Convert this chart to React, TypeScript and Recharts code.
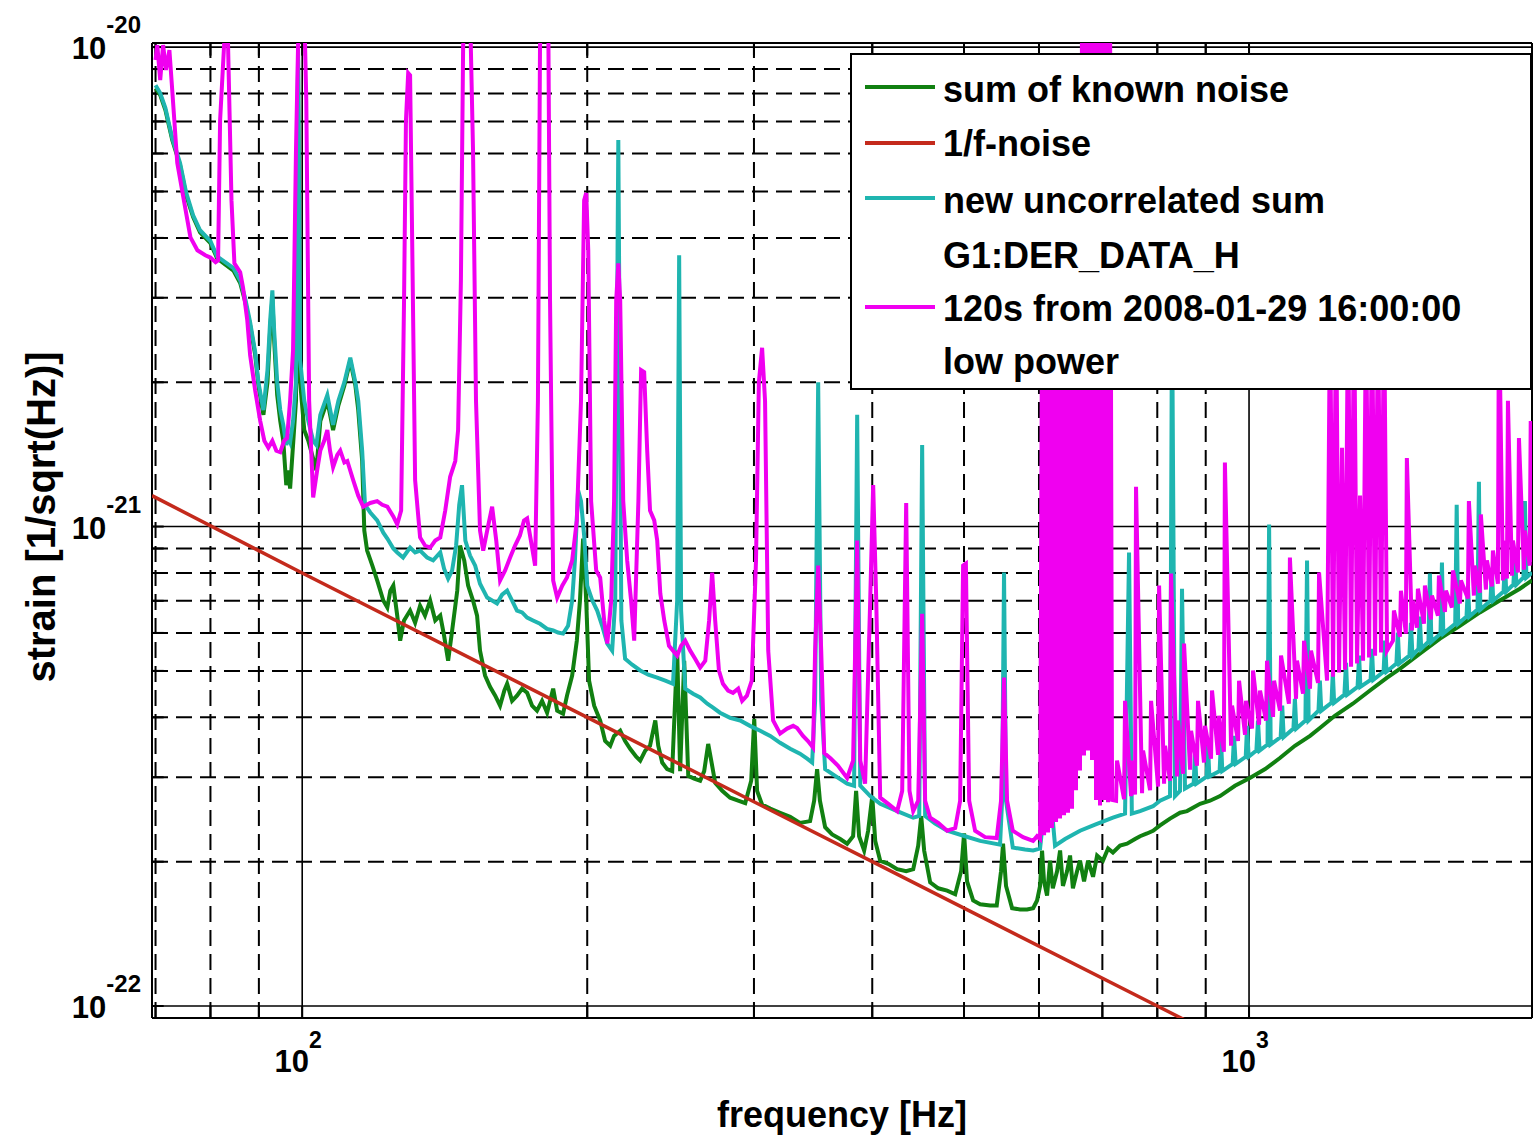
import { LineChart, Line, XAxis, YAxis, ReferenceLine, Label } from 'recharts';

// [frequency Hz, strain 1/sqrt(Hz)]
const knownNoise: [number, number][] = [
  [70.0, 8.21e-21], [70.8, 7.94e-21], [71.7, 7.39e-21], [72.9, 6.4e-21], [74.3, 5.67e-21], [75.4, 4.91e-21],
  [76.7, 4.42e-21], [78.0, 4.11e-21], [80.0, 3.9e-21], [81.3, 3.63e-21], [82.9, 3.52e-21], [84.6, 3.42e-21],
  [86.0, 3.22e-21], [87.0, 2.96e-21], [88.1, 2.63e-21], [89.2, 2.28e-21], [89.9, 1.97e-21], [91.0, 1.71e-21],
  [91.9, 2.0e-21], [92.5, 2.57e-21], [93.0, 2.99e-21], [93.4, 2.45e-21], [94.1, 1.88e-21], [94.8, 1.66e-21],
  [95.5, 1.51e-21], [96.2, 1.22e-21], [96.7, 1.31e-21], [97.1, 1.2e-21], [97.8, 1.48e-21], [98.5, 1.83e-21],
  [99.0, 9.4e-21], [99.5, 2.0e-21], [100.5, 1.59e-21], [101.5, 1.51e-21], [103.5, 1.31e-21], [104.5, 1.66e-21],
  [106.3, 1.83e-21], [107.8, 1.59e-21], [109.2, 1.79e-21], [110.8, 1.97e-21], [112.4, 2.22e-21], [113.8, 1.97e-21],
  [114.6, 1.75e-21], [115.7, 1.37e-21], [116.3, 9.81e-22], [117.1, 8.91e-22], [118.6, 8.29e-22], [120.0, 7.72e-22],
  [121.8, 7.01e-22], [123.0, 6.78e-22], [123.9, 7.35e-22], [124.8, 7.53e-22], [126.0, 6.52e-22], [126.9, 5.78e-22],
  [128.1, 6.37e-22], [130.0, 6.68e-22], [131.6, 6.3e-22], [133.2, 6.84e-22], [134.8, 6.52e-22], [136.5, 7.01e-22],
  [138.2, 6.37e-22], [139.9, 6.52e-22], [141.2, 5.92e-22], [142.6, 5.25e-22], [144.0, 6.07e-22], [145.8, 7.35e-22],
  [146.8, 9.13e-22], [148.3, 8.5e-22], [149.7, 7.53e-22], [151.5, 7.01e-22], [153.0, 6.52e-22], [154.1, 5.51e-22],
  [156.0, 4.89e-22], [157.9, 4.63e-22], [159.9, 4.44e-22], [161.8, 4.23e-22], [163.5, 4.55e-22], [164.6, 4.7e-22],
  [166.6, 4.33e-22], [168.6, 4.44e-22], [170.7, 4.59e-22], [172.8, 4.5e-22], [174.9, 4.23e-22], [177.0, 4.13e-22],
  [179.2, 4.33e-22], [181.4, 4.09e-22], [184.1, 4.59e-22], [185.9, 4.13e-22], [188.6, 4.07e-22], [190.4, 4.44e-22],
  [192.8, 4.89e-22], [195.0, 5.78e-22], [196.5, 7.01e-22], [198.0, 9.44e-22], [199.5, 7.01e-22], [200.9, 4.77e-22],
  [203.4, 4.23e-22], [206.4, 3.94e-22], [208.9, 3.57e-22], [211.5, 3.49e-22], [213.5, 3.66e-22], [216.7, 3.75e-22],
  [219.3, 3.57e-22], [222.0, 3.44e-22], [225.3, 3.31e-22], [227.5, 3.25e-22], [230.3, 3.41e-22], [233.0, 3.49e-22],
  [236.0, 3.94e-22], [237.7, 3.49e-22], [240.0, 3.22e-22], [242.9, 3.12e-22], [245.9, 3.09e-22], [248.9, 5.51e-22],
  [250.7, 3.09e-22], [253.2, 5.25e-22], [255.7, 3.02e-22], [259.4, 2.98e-22], [263.2, 2.95e-22], [265.8, 3.09e-22],
  [268.4, 3.52e-22], [270.4, 3.25e-22], [273.0, 2.92e-22], [277.7, 2.81e-22], [283.1, 2.72e-22], [288.7, 2.68e-22],
  [293.7, 2.65e-22], [298.0, 2.95e-22], [300.2, 3.97e-22], [302.3, 2.81e-22], [306.0, 2.63e-22], [312.1, 2.58e-22],
  [319.7, 2.53e-22], [327.6, 2.48e-22], [335.5, 2.41e-22], [343.9, 2.43e-22], [347.3, 2.68e-22], [349.8, 3.12e-22],
  [352.2, 2.68e-22], [356.7, 2.36e-22], [362.8, 2.28e-22], [370.0, 2.23e-22], [376.3, 2.18e-22], [381.8, 2.26e-22],
  [384.6, 2.81e-22], [387.4, 2.26e-22], [392.2, 2.11e-22], [396.0, 2.32e-22], [400.0, 2.74e-22], [402.9, 2.21e-22],
  [407.8, 2.01e-22], [415.9, 1.98e-22], [425.0, 1.93e-22], [434.4, 1.91e-22], [441.9, 1.93e-22], [447.3, 2.16e-22],
  [450.6, 2.49e-22], [453.8, 2.11e-22], [460.5, 1.81e-22], [469.6, 1.76e-22], [479.9, 1.74e-22], [489.4, 1.71e-22],
  [496.5, 1.91e-22], [500.1, 2.29e-22], [503.7, 1.82e-22], [511.2, 1.66e-22], [520.0, 1.63e-22], [532.9, 1.62e-22],
  [541.4, 1.62e-22], [547.1, 1.91e-22], [549.8, 2.18e-22], [553.8, 1.78e-22], [562.0, 1.6e-22], [573.0, 1.59e-22],
  [582.9, 1.59e-22], [591.5, 1.6e-22], [597.2, 1.66e-22], [601.6, 1.78e-22], [604.5, 2.11e-22], [607.4, 1.82e-22],
  [611.9, 1.7e-22], [616.4, 2.01e-22], [620.5, 1.76e-22], [627.0, 1.91e-22], [631.6, 2.11e-22], [636.0, 1.78e-22],
  [642.4, 1.91e-22], [647.1, 2.06e-22], [651.6, 1.76e-22], [658.2, 1.91e-22], [663.0, 2.01e-22], [669.5, 1.82e-22],
  [676.1, 2.01e-22], [684.3, 1.86e-22], [691.1, 2.06e-22], [701.0, 2.01e-22], [709.8, 2.13e-22], [718.2, 2.09e-22],
  [730.8, 2.16e-22], [743.3, 2.18e-22], [757.9, 2.23e-22], [767.2, 2.26e-22], [780.3, 2.29e-22], [791.8, 2.32e-22],
  [805.4, 2.38e-22], [825.2, 2.46e-22], [845.5, 2.53e-22], [860.0, 2.55e-22], [887.7, 2.64e-22], [909.5, 2.68e-22],
  [931.9, 2.74e-22], [966.4, 2.88e-22], [1002, 2.99e-22], [1040, 3.12e-22], [1078, 3.29e-22], [1118, 3.49e-22],
  [1160, 3.66e-22], [1188, 3.8e-22], [1232, 4.03e-22], [1287, 4.27e-22], [1342, 4.55e-22], [1399, 4.84e-22],
  [1443, 5.05e-22], [1515, 5.43e-22], [1591, 5.84e-22], [1670, 6.21e-22], [1753, 6.62e-22], [1840, 7.01e-22],
  [1932, 7.42e-22], [1990, 7.72e-22],
];

const oneOverF: [number, number][] = [
  [69.4, 1.16e-21], [100, 8.0e-22], [200, 4.0e-22], [400, 2.0e-22], [800, 1.0e-22], [1000, 8.0e-23],
];

const uncorrelatedSum: [number, number][] = [
  [70.0, 8.33e-21], [70.8, 8.02e-21], [71.7, 7.46e-21], [72.9, 6.46e-21], [74.3, 5.73e-21], [75.4, 4.98e-21],
  [76.7, 4.46e-21], [78.0, 4.15e-21], [80.0, 3.94e-21], [81.3, 3.66e-21], [82.9, 3.56e-21], [84.6, 3.46e-21],
  [86.0, 3.26e-21], [87.0, 3.01e-21], [88.1, 2.67e-21], [89.2, 2.31e-21], [89.9, 2.0e-21], [91.0, 1.75e-21],
  [91.9, 2.12e-21], [92.5, 2.69e-21], [93.0, 3.11e-21], [93.4, 2.57e-21], [94.1, 2.0e-21], [94.8, 1.75e-21],
  [95.5, 1.63e-21], [96.2, 1.48e-21], [96.7, 1.53e-21], [97.1, 1.5e-21], [97.8, 1.66e-21], [98.5, 2.0e-21],
  [99.0, 9.86e-21], [99.5, 2.22e-21], [100.5, 1.83e-21], [101.5, 1.66e-21], [102.7, 1.51e-21], [103.5, 1.48e-21],
  [104.5, 1.71e-21], [106.3, 1.88e-21], [107.8, 1.63e-21], [109.2, 1.83e-21], [110.8, 2.0e-21], [112.4, 2.25e-21],
  [113.8, 2.0e-21], [114.6, 1.83e-21], [115.7, 1.44e-21], [116.5, 1.11e-21], [118.0, 1.07e-21], [120.0, 1.03e-21],
  [121.8, 9.71e-22], [123.0, 9.44e-22], [124.8, 9.0e-22], [126.0, 8.83e-22], [127.8, 8.62e-22], [130.0, 9.04e-22],
  [131.6, 8.83e-22], [133.2, 8.91e-22], [135.5, 8.62e-22], [137.5, 8.5e-22], [139.9, 8.83e-22], [141.2, 8.17e-22],
  [142.6, 7.79e-22], [144.0, 8.1e-22], [145.4, 9.13e-22], [146.5, 1.11e-21], [147.5, 1.22e-21], [148.7, 9.35e-22],
  [150.4, 8.7e-22], [152.3, 8.29e-22], [154.1, 7.6e-22], [156.8, 7.11e-22], [158.7, 7.01e-22], [160.6, 6.91e-22],
  [162.6, 7.21e-22], [164.6, 7.35e-22], [166.6, 7.01e-22], [168.6, 6.68e-22], [170.7, 6.62e-22], [172.8, 6.46e-22],
  [175.3, 6.37e-22], [178.3, 6.27e-22], [181.4, 6.12e-22], [184.1, 6.07e-22], [186.3, 6.01e-22], [188.6, 5.98e-22],
  [190.9, 6.21e-22], [192.8, 7.01e-22], [194.1, 8.5e-22], [195.6, 1.19e-21], [197.0, 1.13e-21], [198.5, 9.58e-22],
  [200.0, 7.53e-22], [202.5, 7.01e-22], [204.9, 6.68e-22], [207.4, 6.21e-22], [210.0, 5.7e-22], [212.5, 5.51e-22],
  [214.1, 7.01e-22], [215.7, 6.4e-21], [217.3, 6.37e-22], [219.3, 5.3e-22], [223.1, 5.15e-22], [227.5, 5.01e-22],
  [232.0, 4.91e-22], [237.1, 4.84e-22], [241.8, 4.77e-22], [246.4, 4.7e-22], [248.9, 7.01e-22], [250.1, 3.68e-21],
  [251.3, 6.68e-22], [253.8, 4.59e-22], [258.7, 4.48e-22], [263.2, 4.4e-22], [267.8, 4.27e-22], [271.6, 4.19e-22],
  [276.2, 4.09e-22], [283.1, 3.99e-22], [290.1, 3.94e-22], [297.1, 3.84e-22], [304.6, 3.75e-22], [312.1, 3.66e-22],
  [319.7, 3.54e-22], [327.6, 3.44e-22], [335.5, 3.36e-22], [341.4, 3.28e-22], [345.6, 3.22e-22], [348.1, 4.33e-22],
  [350.7, 2.0e-21], [353.3, 4.33e-22], [356.7, 3.12e-22], [365.5, 3.02e-22], [376.3, 2.91e-22], [382.7, 2.88e-22],
  [385.6, 1.71e-21], [388.5, 2.88e-22], [398.0, 2.74e-22], [407.8, 2.64e-22], [425.0, 2.55e-22], [441.9, 2.47e-22],
  [448.4, 2.49e-22], [451.6, 1.48e-21], [454.9, 2.49e-22], [466.1, 2.4e-22], [479.9, 2.32e-22], [501.3, 2.26e-22],
  [520.0, 2.21e-22], [545.8, 2.17e-22], [548.5, 2.68e-22], [551.1, 8.02e-22], [553.8, 2.68e-22], [563.0, 2.14e-22],
  [580.0, 2.12e-22], [591.5, 2.11e-22], [601.6, 2.13e-22], [608.9, 2.68e-22], [613.4, 1.36e-21], [617.9, 2.68e-22],
  [623.9, 2.16e-22], [639.3, 2.23e-22], [663.0, 2.32e-22], [687.7, 2.39e-22], [718.2, 2.47e-22], [739.7, 2.52e-22],
  [746.9, 8.83e-22], [752.0, 2.52e-22], [767.2, 2.55e-22], [791.8, 2.61e-22], [805.4, 2.68e-22], [825.2, 2.74e-22],
  [829.2, 2.96e-21], [835.3, 2.74e-22], [845.5, 2.81e-22], [849.6, 7.42e-22], [855.8, 2.84e-22],
  [874, 2.91e-22], [876.9, 3.37e-22], [880, 2.91e-22], [902, 3.01e-22], [905.1, 3.49e-22], [908, 3.01e-22],
  [931, 3.09e-22], [934.2, 3.61e-22], [937, 3.09e-22], [961, 3.2e-22], [964.2, 3.66e-22], [968, 3.2e-22],
  [992, 3.31e-22], [995.2, 3.84e-22], [999, 3.31e-22], [1018, 3.41e-22], [1022, 3.94e-22], [1026, 3.41e-22],
  [1046, 3.51e-22], [1050, 1.01e-21], [1054, 3.51e-22], [1080, 3.64e-22], [1084, 4.23e-22], [1088, 3.64e-22],
  [1114, 3.79e-22], [1118, 4.37e-22], [1122, 3.79e-22], [1147, 3.94e-22], [1151.5, 8.5e-22], [1156, 3.94e-22],
  [1184, 4.13e-22], [1188, 4.77e-22], [1192, 4.13e-22], [1222, 4.29e-22], [1226, 4.96e-22], [1230, 4.29e-22],
  [1261, 4.46e-22], [1266, 5.2e-22], [1270, 4.46e-22], [1302, 4.63e-22], [1307, 5.38e-22], [1311, 4.63e-22],
  [1344, 4.79e-22], [1348.5, 5.56e-22], [1353, 4.79e-22], [1387, 4.98e-22], [1392, 5.78e-22], [1397, 4.98e-22],
  [1431, 5.18e-22], [1436, 6.01e-22], [1441, 5.18e-22], [1477, 5.38e-22], [1482.5, 6.3e-22], [1488, 5.38e-22],
  [1510, 5.56e-22], [1515, 6.49e-22], [1520, 5.56e-22], [1547, 5.75e-22], [1552.5, 7.98e-22], [1558, 5.75e-22],
  [1593, 5.98e-22], [1598.6, 8.41e-22], [1604, 5.98e-22], [1651, 6.27e-22], [1657, 1.11e-21], [1663, 6.27e-22],
  [1697, 6.49e-22], [1703, 7.53e-22], [1709, 6.49e-22], [1743, 6.71e-22], [1749, 1.24e-21], [1755, 6.71e-22],
  [1799, 7.01e-22], [1805, 8.1e-22], [1811, 7.01e-22], [1857, 7.32e-22], [1863, 8.5e-22], [1869, 7.32e-22],
  [1902, 7.57e-22], [1909, 8.83e-22], [1916, 7.57e-22], [1949, 7.83e-22], [1956, 1.13e-21], [1963, 7.83e-22],
  [1990, 8.02e-22],
];

const measured: [number, number][] = [
  [70.0, 9.4e-21], [70.3, 1.01e-20], [70.8, 8.54e-21], [71.3, 1.01e-20], [71.8, 8.96e-21], [72.4, 9.86e-21],
  [72.9, 8.13e-21], [73.8, 5.73e-21], [74.9, 4.86e-21], [76.2, 4.01e-21], [77.5, 3.77e-21], [79.0, 3.68e-21],
  [80.0, 3.64e-21], [81.0, 3.56e-21], [81.5, 3.59e-21], [81.9, 7.04e-21], [82.7, 1.01e-20], [83.5, 1.01e-20],
  [84.2, 4.79e-21], [84.8, 3.54e-21], [86.0, 3.39e-21], [86.6, 3.15e-21], [87.5, 2.69e-21], [88.1, 2.28e-21],
  [89.2, 1.92e-21], [90.3, 1.66e-21], [91.2, 1.51e-21], [92.1, 1.46e-21], [93.0, 1.51e-21], [93.9, 1.44e-21],
  [94.8, 1.43e-21], [95.7, 1.51e-21], [96.4, 1.53e-21], [97.1, 1.83e-21], [97.8, 2.33e-21], [98.5, 6.1e-21],
  [99.0, 1.01e-20], [99.5, 1.2e-20], [100.5, 1.2e-20], [101.0, 7.75e-21], [101.7, 1.83e-21], [102.7, 1.15e-21],
  [103.7, 1.31e-21], [104.5, 1.44e-21], [105.5, 1.51e-21], [106.3, 1.59e-21], [107.0, 1.44e-21], [107.8, 1.33e-21],
  [108.9, 1.41e-21], [109.7, 1.44e-21], [110.8, 1.36e-21], [111.6, 1.37e-21], [113.2, 1.25e-21], [114.6, 1.16e-21],
  [116.0, 1.1e-21], [118.0, 1.12e-21], [120.0, 1.13e-21], [121.5, 1.11e-21], [123.0, 1.1e-21], [124.8, 1.05e-21],
  [126.0, 1.01e-21], [127.2, 1.08e-21], [128.1, 2.96e-21], [128.7, 7.04e-21], [129.4, 8.83e-21], [130.0, 8.74e-21],
  [130.7, 3.77e-21], [131.6, 1.25e-21], [133.2, 9.49e-22], [134.8, 9.13e-22], [136.5, 9.04e-22], [138.2, 9.35e-22],
  [139.9, 9.49e-22], [141.6, 1.08e-21], [143.3, 1.27e-21], [145.1, 1.37e-21], [146.1, 1.59e-21], [147.1, 3.26e-21],
  [147.9, 1.01e-20], [149.0, 1.2e-20], [150.4, 1.2e-20], [151.5, 6.1e-21], [152.6, 1.83e-21], [154.1, 9.81e-22],
  [155.3, 8.91e-22], [156.8, 9.81e-22], [158.7, 1.1e-21], [160.3, 9.35e-22], [161.8, 7.72e-22], [163.8, 8.1e-22],
  [165.8, 8.62e-22], [167.8, 9.13e-22], [169.8, 9.58e-22], [171.5, 1.03e-21], [172.8, 1.04e-21], [174.4, 9.35e-22],
  [176.2, 8.29e-22], [177.4, 1.83e-21], [178.3, 1.01e-20], [180.1, 1.2e-20], [181.9, 1.2e-20], [182.7, 2.96e-21],
  [184.1, 7.72e-22], [185.9, 7.11e-22], [188.2, 7.53e-22], [190.4, 7.83e-22], [192.8, 8.5e-22], [195.0, 1.03e-21],
  [197.0, 1.83e-21], [198.5, 4.79e-21], [199.5, 4.96e-21], [200.5, 3.77e-21], [201.9, 1.13e-21], [204.4, 8.1e-22],
  [206.4, 7.83e-22], [208.4, 6.37e-22], [210.0, 5.7e-22], [212.0, 7.01e-22], [213.5, 1.13e-21], [214.6, 2.96e-21],
  [215.7, 3.54e-21], [216.7, 2.96e-21], [218.3, 1.13e-21], [220.4, 8.5e-22], [222.5, 7.01e-22], [224.2, 5.78e-22],
  [226.5, 1.13e-21], [228.0, 2.12e-21], [229.7, 2.1e-21], [231.4, 1.44e-21], [233.0, 1.08e-21], [235.4, 1.03e-21],
  [237.1, 9.35e-22], [238.9, 7.25e-22], [241.2, 6.37e-22], [244.0, 5.64e-22], [246.4, 5.51e-22], [248.9, 5.38e-22],
  [251.3, 5.64e-22], [253.8, 5.78e-22], [256.9, 5.51e-22], [260.0, 5.3e-22], [263.2, 5.08e-22], [266.5, 5.25e-22],
  [269.0, 6.37e-22], [271.0, 8.02e-22], [273.0, 6.37e-22], [275.5, 5.01e-22], [278.2, 4.7e-22], [281.7, 4.55e-22],
  [285.1, 4.5e-22], [288.7, 4.59e-22], [291.5, 4.33e-22], [294.9, 4.44e-22], [298.4, 4.77e-22], [301.5, 8.5e-22],
  [303.6, 2.0e-21], [306.0, 2.36e-21], [308.2, 1.83e-21], [310.6, 5.51e-22], [314.3, 3.94e-22], [319.7, 3.7e-22],
  [325.2, 3.79e-22], [330.0, 3.84e-22], [333.2, 3.8e-22], [338.0, 3.66e-22], [342.1, 3.57e-22], [346.4, 3.46e-22],
  [348.1, 5.51e-22], [350.7, 8.29e-22], [353.3, 5.51e-22], [355.9, 3.37e-22], [361.1, 3.29e-22], [368.1, 3.17e-22],
  [376.3, 2.99e-22], [381.8, 3.25e-22], [385.6, 9.35e-22], [388.5, 3.25e-22], [393.1, 2.91e-22], [398.0, 7.01e-22],
  [400.9, 1.22e-21], [403.9, 7.01e-22], [407.8, 2.72e-22], [415.9, 2.64e-22], [425.0, 2.55e-22], [430.2, 2.81e-22],
  [434.4, 1.12e-21], [437.9, 2.81e-22], [441.9, 2.55e-22], [447.3, 2.68e-22], [451.6, 6.58e-22], [454.9, 2.68e-22],
  [460.5, 2.47e-22], [469.6, 2.41e-22], [479.9, 2.32e-22], [489.4, 2.35e-22], [495.3, 2.68e-22], [498.9, 8.29e-22],
  [502.3, 8.37e-22], [506.3, 2.68e-22], [513.7, 2.32e-22], [526.3, 2.25e-22], [541.4, 2.24e-22], [547.1, 2.68e-22],
  [551.1, 4.84e-22], [555.2, 2.68e-22], [563.0, 2.32e-22], [577.2, 2.25e-22], [591.5, 2.21e-22], [597.2, 2.26e-22],
  [601.6, 2.23e-22], [604.5, 2.96e-21], [607.5, 2.27e-22], [610.4, 6.07e-21], [613.4, 2.3e-22], [616.4, 3.76e-21],
  [619.4, 2.35e-22], [622.4, 4.78e-21], [625.4, 2.42e-22], [628.5, 7.02e-21], [631.5, 2.46e-22], [634.6, 3.26e-21],
  [637.7, 2.5e-22], [640.8, 5.27e-21], [643.9, 2.53e-22], [647.0, 3.59e-21], [650.2, 2.58e-22], [653.4, 7.72e-21],
  [656.5, 2.82e-22], [659.7, 6.07e-21], [662.9, 3.1e-22], [666.2, 1.2e-20], [669.4, 3.33e-22], [672.7, 1.2e-20],
  [676.0, 3.41e-22], [679.3, 1.2e-20], [682.6, 3.26e-22], [685.9, 1.2e-20], [689.3, 2.69e-22], [692.6, 1.2e-20],
  [696.0, 2.62e-22], [699.4, 1.2e-20], [702.8, 2.69e-22], [706.3, 1.2e-20], [709.7, 2.66e-22], [713.2, 1.2e-20],
  [716.7, 2.69e-22],
  [723.7, 2.68e-22], [725.4, 3.25e-22], [737.9, 2.7e-22], [739.7, 4.33e-22], [750.6, 2.74e-22], [752.4, 3.25e-22],
  [757.9, 2.76e-22], [759.7, 1.21e-21], [770.9, 2.78e-22], [772.8, 3.41e-22], [786.1, 2.82e-22], [788.0, 4.33e-22],
  [801.5, 2.87e-22], [803.5, 7.53e-22], [813.3, 2.91e-22], [815.3, 3.49e-22], [825.2, 2.95e-22], [827.2, 7.98e-22],
  [839.4, 3.01e-22], [841.4, 3.94e-22], [851.7, 3.05e-22], [853.8, 5.7e-22], [866.4, 3.11e-22], [868.5, 3.75e-22],
  [881.1, 3.17e-22], [883.3, 4.33e-22], [896.3, 3.22e-22], [898.5, 3.84e-22], [911.7, 3.28e-22], [913.9, 4.55e-22],
  [927.4, 3.34e-22], [929.6, 4.03e-22], [940.7, 3.39e-22], [943.0, 1.36e-21], [957.2, 3.49e-22], [959.5, 4.23e-22],
  [973.6, 3.57e-22], [976.0, 4.77e-22], [990.3, 3.68e-22], [992.7, 4.33e-22], [1007.3, 3.79e-22], [1009.8, 5.01e-22],
  [1024.6, 3.86e-22], [1027.1, 4.55e-22], [1042.2, 3.94e-22], [1044.7, 5.25e-22], [1060.1, 4.01e-22], [1062.7, 4.77e-22],
  [1078.3, 4.13e-22], [1080.9, 5.38e-22], [1101.8, 4.27e-22], [1104.5, 8.62e-22], [1121.0, 4.37e-22], [1123.7, 5.25e-22],
  [1140.3, 4.48e-22], [1143.1, 5.78e-22], [1159.8, 4.59e-22], [1162.6, 5.51e-22], [1182.7, 4.72e-22], [1185.6, 8.02e-22],
  [1208.9, 4.77e-22], [1217.8, 3.0e-21], [1226.7, 4.86e-22], [1235.7, 3.0e-21], [1244.7, 4.96e-22], [1253.8, 1.46e-21],
  [1263.0, 5.03e-22], [1272.3, 3.0e-21], [1281.6, 5.1e-22], [1291.0, 3.0e-21], [1300.4, 5.18e-22], [1309.9, 1.16e-21],
  [1319.5, 5.25e-22], [1329.2, 3.0e-21], [1338.9, 5.33e-22], [1348.7, 3.0e-21], [1358.6, 5.38e-22], [1368.5, 3.0e-21],
  [1378.5, 5.46e-22], [1388.6, 3.0e-21], [1398.8, 5.51e-22],
  [1419.0, 5.78e-22], [1422.4, 6.68e-22], [1443.3, 5.89e-22], [1446.8, 7.35e-22], [1464.3, 5.98e-22], [1467.9, 1.39e-21],
  [1486.1, 6.07e-22], [1489.7, 7.01e-22], [1504.1, 6.15e-22], [1507.8, 7.42e-22], [1530.1, 6.27e-22], [1533.8, 7.53e-22],
  [1556.3, 6.4e-22], [1560.1, 7.18e-22], [1583.1, 6.52e-22], [1587.0, 7.9e-22], [1610.3, 6.64e-22], [1614.2, 7.35e-22],
  [1637.8, 6.78e-22], [1641.8, 8.1e-22], [1670.0, 6.91e-22], [1674.1, 7.72e-22], [1702.8, 7.08e-22], [1706.9, 1.13e-21],
  [1727.8, 7.18e-22], [1732.0, 8.29e-22], [1753.0, 7.28e-22], [1757.3, 1.06e-21], [1778.9, 7.39e-22], [1783.2, 8.5e-22],
  [1805.2, 7.5e-22], [1809.6, 8.91e-22], [1831.7, 7.6e-22], [1836.2, 2.96e-21], [1854.2, 7.72e-22], [1858.7, 9.35e-22],
  [1872.3, 7.79e-22], [1876.9, 1.83e-21], [1895.2, 7.9e-22], [1899.8, 9.35e-22], [1923.1, 8.02e-22], [1927.8, 1.53e-21],
  [1951.3, 8.13e-22], [1956.0, 9.81e-22], [1979.0, 8.29e-22], [1983.8, 1.66e-21], [1990, 8.41e-22],
];

const decadeX = [100, 1000];
const minorX = [70, 80, 90, 200, 300, 400, 500, 600, 700, 800, 900];
const decadeY = [1e-22, 1e-21, 1e-20];
const minorY = [
  2e-22, 3e-22, 4e-22, 5e-22, 6e-22, 7e-22, 8e-22, 9e-22,
  2e-21, 3e-21, 4e-21, 5e-21, 6e-21, 7e-21, 8e-21, 9e-21,
];

const X_MIN = 69.4;
const X_MAX = 1990;
const Y_MIN = 9.44e-23;
const Y_MAX = 1.02e-20;

const FONT = '"Liberation Sans", Arial, Helvetica, sans-serif';

const COLORS = {
  known: '#118011',
  oneOverF: '#c42a1c',
  uncorrelated: '#1fb5b0',
  measured: '#f000f0',
};

const toRows = (pts: [number, number][]) => pts.map(([f, v]) => ({ f, v }));

function FreqTick({ x, payload }: any) {
  const exp = Math.round(Math.log10(payload.value));
  return (
    <text x={x - 4} y={1072} textAnchor="middle" fontFamily={FONT} fontWeight="bold" fontSize={31} fill="#000">
      10<tspan dy={-24} fontSize={23}>{exp}</tspan>
    </text>
  );
}

function StrainTick({ y, payload }: any) {
  const exp = Math.round(Math.log10(payload.value));
  return (
    <text x={141} y={y + 12} textAnchor="end" fontFamily={FONT} fontWeight="bold" fontSize={31} fill="#000">
      10<tspan dy={-26} fontSize={24}>{exp}</tspan>
    </text>
  );
}

function LegendBox() {
  const rows = [
    { color: COLORS.known, lineY: 34, label: 'sum of known noise', textY: 49 },
    { color: COLORS.oneOverF, lineY: 90, label: '1/f-noise', textY: 103 },
    { color: COLORS.uncorrelated, lineY: 145, label: 'new uncorrelated sum', textY: 160 },
    { color: null, lineY: 0, label: 'G1:DER_DATA_H', textY: 215 },
    { color: COLORS.measured, lineY: 254, label: '120s from 2008-01-29 16:00:00', textY: 268 },
    { color: null, lineY: 0, label: 'low power', textY: 321 },
  ];
  return (
    <svg width={682} height={337} style={{ position: 'absolute', left: 850, top: 53 }}>
      <rect x={1} y={1} width={680} height={335} fill="#fff" stroke="#000" strokeWidth={2} />
      {rows.map((r) => (
        <g key={r.label}>
          {r.color && <line x1={15} x2={85} y1={r.lineY} y2={r.lineY} stroke={r.color} strokeWidth={4} />}
          <text x={93} y={r.textY} fontFamily={FONT} fontWeight="bold" fontSize={36} fill="#000">
            {r.label}
          </text>
        </g>
      ))}
    </svg>
  );
}

export default function App() {
  const dash = '16 8';
  return (
    <div style={{ position: 'absolute', left: 0, top: 0, width: 1533, height: 1146, background: '#fff' }}>
      <LineChart width={1533} height={1146} margin={{ top: 43, right: 1, bottom: 68, left: 92 }}>
        <XAxis
          type="number"
          dataKey="f"
          scale="log"
          domain={[X_MIN, X_MAX]}
          allowDataOverflow
          ticks={decadeX}
          interval={0}
          tick={<FreqTick />}
          tickLine={false}
          axisLine={false}
          height={60}
        >
          <Label
            content={() => (
              <text x={842} y={1127} textAnchor="middle" fontFamily={FONT} fontWeight="bold" fontSize={36} fill="#000">
                frequency [Hz]
              </text>
            )}
          />
        </XAxis>
        <YAxis
          type="number"
          dataKey="v"
          scale="log"
          domain={[Y_MIN, Y_MAX]}
          allowDataOverflow
          ticks={decadeY}
          interval={0}
          tick={<StrainTick />}
          tickLine={false}
          axisLine={false}
          width={60}
        >
          <Label
            content={() => (
              <text
                x={55}
                y={517}
                transform="rotate(-90 55 517)"
                textAnchor="middle"
                fontFamily={FONT}
                fontWeight="bold"
                fontSize={40}
                fill="#000"
              >
                strain [1/sqrt(Hz)]
              </text>
            )}
          />
        </YAxis>

        {minorX.map((f) => (
          <ReferenceLine key={`mx${f}`} x={f} stroke="#000" strokeWidth={2} strokeDasharray={dash} ifOverflow="visible" />
        ))}
        {minorY.map((v) => (
          <ReferenceLine key={`my${v}`} y={v} stroke="#000" strokeWidth={2} strokeDasharray={dash} ifOverflow="visible" />
        ))}
        {decadeX.map((f) => (
          <ReferenceLine key={`dx${f}`} x={f} stroke="#000" strokeWidth={1.6} ifOverflow="visible" />
        ))}
        {decadeY.map((v) => (
          <ReferenceLine key={`dy${v}`} y={v} stroke="#000" strokeWidth={1.6} ifOverflow="visible" />
        ))}
        {[...minorX, ...decadeX].map((f) => (
          <ReferenceLine
            key={`tb${f}`}
            segment={[{ x: f, y: Y_MIN }, { x: f, y: 1e-22 }]}
            stroke="#000"
            strokeWidth={2}
            ifOverflow="visible"
          />
        ))}
        {[...minorX, ...decadeX].map((f) => (
          <ReferenceLine
            key={`tt${f}`}
            segment={[{ x: f, y: Y_MAX }, { x: f, y: 9.6e-21 }]}
            stroke="#000"
            strokeWidth={2}
            ifOverflow="visible"
          />
        ))}
        {[...minorY, ...decadeY].map((v) => (
          <ReferenceLine
            key={`tl${v}`}
            segment={[{ x: X_MIN, y: v }, { x: 71.4, y: v }]}
            stroke="#000"
            strokeWidth={2}
            ifOverflow="visible"
          />
        ))}
        <ReferenceLine x={X_MIN} stroke="#000" strokeWidth={2} ifOverflow="visible" />
        <ReferenceLine x={X_MAX} stroke="#000" strokeWidth={2} ifOverflow="visible" />
        <ReferenceLine y={Y_MIN} stroke="#000" strokeWidth={2} ifOverflow="visible" />
        <ReferenceLine y={Y_MAX} stroke="#000" strokeWidth={2} ifOverflow="visible" />

        <Line
          data={toRows(knownNoise)}
          dataKey="v"
          name="sum of known noise"
          stroke={COLORS.known}
          strokeWidth={4}
          dot={false}
          isAnimationActive={false}
        />
        <Line
          data={toRows(oneOverF)}
          dataKey="v"
          name="1/f-noise"
          stroke={COLORS.oneOverF}
          strokeWidth={3.5}
          dot={false}
          isAnimationActive={false}
        />
        <Line
          data={toRows(uncorrelatedSum)}
          dataKey="v"
          name="new uncorrelated sum"
          stroke={COLORS.uncorrelated}
          strokeWidth={4}
          dot={false}
          isAnimationActive={false}
        />
        <Line
          data={toRows(measured)}
          dataKey="v"
          name="G1:DER_DATA_H"
          stroke={COLORS.measured}
          strokeWidth={4}
          dot={false}
          isAnimationActive={false}
        />
      </LineChart>
      <LegendBox />
    </div>
  );
}
